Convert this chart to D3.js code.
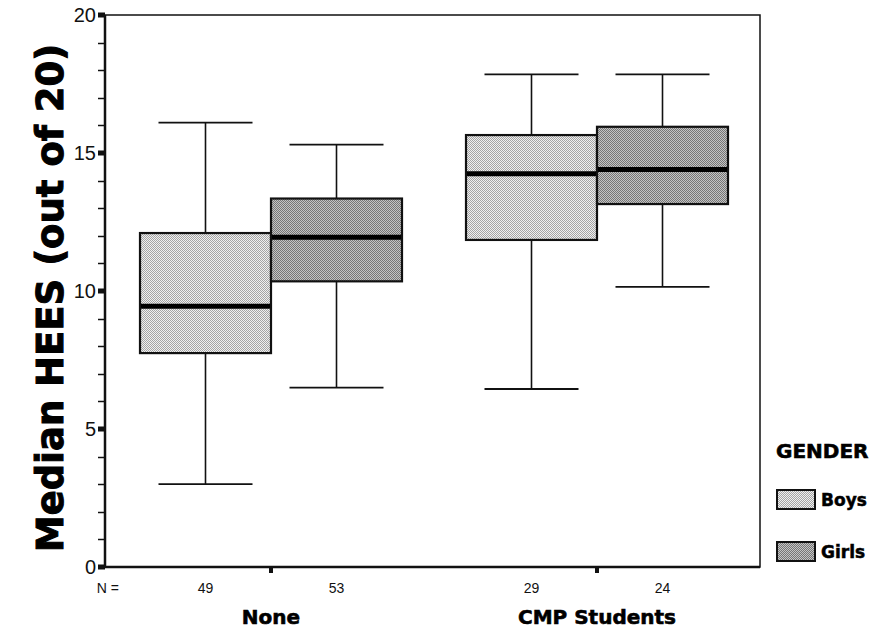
<!DOCTYPE html>
<html>
<head>
<meta charset="utf-8">
<script src="https://cdn.jsdelivr.net/npm/d3@7"></script>
<style>
  body { margin: 0; background: #fff; }
  svg { display: block; }
</style>
</head>
<body>
<div id="chart"></div>
<script>
// chart data
var groups = ['None', 'CMP Students'];
var genders = ['Boys', 'Girls'];
var nCounts = [49, 53, 29, 24];           // None-Boys, None-Girls, CMP-Boys, CMP-Girls
var lowWhisker = [3.0, 6.5, 6.45, 10.15];
var q1 = [7.75, 10.35, 11.85, 13.15];
var median = [9.45, 11.95, 14.25, 14.4];
var q3 = [12.1, 13.35, 15.65, 15.95];
var highWhisker = [16.1, 15.3, 17.85, 17.85];
var majorTicks = [0, 5, 10, 15, 20];
var minorTicks = d3.range(0, 21, 1);

var width = 875, height = 630;
var frame = { left: 105, right: 760, top: 15, bottom: 567 };
var boxW = 131, capW = 94;

var svg = d3.select('#chart')
    .append('svg')
    .attr('width', width)
    .attr('height', height);

// screen-tone fills
var defs = svg.append('defs');
function tone(id, light, dark) {
    var p = defs.append('pattern')
        .attr('id', id)
        .attr('width', 2)
        .attr('height', 2)
        .attr('patternUnits', 'userSpaceOnUse');
    p.append('rect').attr('width', 2).attr('height', 2).attr('fill', light);
    p.append('rect').attr('width', 1).attr('height', 1).attr('fill', dark);
    p.append('rect').attr('x', 1).attr('y', 1).attr('width', 1).attr('height', 1).attr('fill', dark);
}
tone('tone-Boys', '#f0f0f0', '#a4a4a4');
tone('tone-Girls', '#c4c4c4', '#767676');

// scales
var y = d3.scaleLinear().domain([0, 20]).range([frame.bottom, frame.top]);
var x = d3.scalePoint().domain(groups).range([frame.left + 3, frame.right]).padding(0.5);
var xg = d3.scaleBand().domain(genders).range([-boxW, boxW]);

// boxes table built from the arrays
var boxes = [];
groups.forEach(function (g, gi) {
    genders.forEach(function (s, si) {
        var i = gi * 2 + si;
        boxes.push({
            group: g, gender: s, n: nCounts[i],
            lo: lowWhisker[i], q1: q1[i], med: median[i], q3: q3[i], hi: highWhisker[i]
        });
    });
});
boxes.forEach(function (d) {
    d.x0 = x(d.group) + xg(d.gender);
    d.cx = d.x0 + xg.bandwidth() / 2;
});

// frame
svg.append('rect')
    .attr('x', frame.left)
    .attr('y', frame.top)
    .attr('width', frame.right - frame.left)
    .attr('height', frame.bottom - frame.top)
    .attr('fill', 'none')
    .attr('stroke', '#111')
    .attr('stroke-width', 1.5);
svg.append('line')
    .attr('x1', frame.left).attr('x2', frame.left)
    .attr('y1', frame.top).attr('y2', frame.bottom)
    .attr('stroke', '#111').attr('stroke-width', 2.5);
svg.append('line')
    .attr('x1', frame.left).attr('x2', frame.right)
    .attr('y1', frame.bottom).attr('y2', frame.bottom)
    .attr('stroke', '#111').attr('stroke-width', 2.5);

// y axis: minor ticks, major square ticks, labels
var yAxis = svg.append('g');
yAxis.selectAll('line.minor')
    .data(minorTicks.filter(function (t) { return majorTicks.indexOf(t) < 0; }))
    .enter().append('line')
    .attr('class', 'minor')
    .attr('x1', frame.left - 7).attr('x2', frame.left)
    .attr('y1', function (d) { return Math.round(y(d)) + 0.5; })
    .attr('y2', function (d) { return Math.round(y(d)) + 0.5; })
    .attr('stroke', '#111').attr('stroke-width', 1.5);
yAxis.selectAll('rect.major')
    .data(majorTicks)
    .enter().append('rect')
    .attr('class', 'major')
    .attr('x', frame.left - 7)
    .attr('y', function (d) { return y(d) - 2.5; })
    .attr('width', 7).attr('height', 5)
    .attr('fill', '#111');
yAxis.selectAll('text')
    .data(majorTicks)
    .enter().append('text')
    .attr('x', frame.left - 9)
    .attr('y', function (d) { return y(d); })
    .attr('dy', '0.36em')
    .attr('text-anchor', 'end')
    .attr('font-family', 'Liberation Sans, Arial, sans-serif')
    .attr('font-size', 20)
    .attr('fill', '#111')
    .text(function (d) { return d; });

// x group ticks (between the pairs)
svg.selectAll('rect.gtick')
    .data(groups)
    .enter().append('rect')
    .attr('class', 'gtick')
    .attr('x', function (d) { return x(d) - 2; })
    .attr('y', frame.bottom)
    .attr('width', 4).attr('height', 6)
    .attr('fill', '#111');

// whiskers
var bx = svg.append('g');
bx.selectAll('line.whisk')
    .data(boxes)
    .enter().append('line')
    .attr('class', 'whisk')
    .attr('x1', function (d) { return d.cx; })
    .attr('x2', function (d) { return d.cx; })
    .attr('y1', function (d) { return y(d.lo); })
    .attr('y2', function (d) { return y(d.hi); })
    .attr('stroke', '#111').attr('stroke-width', 1.6);
['lo', 'hi'].forEach(function (k) {
    bx.selectAll('line.cap-' + k)
        .data(boxes)
        .enter().append('line')
        .attr('class', 'cap-' + k)
        .attr('x1', function (d) { return d.cx - capW / 2; })
        .attr('x2', function (d) { return d.cx + capW / 2; })
        .attr('y1', function (d) { return y(d[k]); })
        .attr('y2', function (d) { return y(d[k]); })
        .attr('stroke', '#111').attr('stroke-width', 1.8);
});

// boxes
bx.selectAll('rect.box')
    .data(boxes)
    .enter().append('rect')
    .attr('class', 'box')
    .attr('x', function (d) { return d.x0; })
    .attr('y', function (d) { return y(d.q3); })
    .attr('width', xg.bandwidth())
    .attr('height', function (d) { return y(d.q1) - y(d.q3); })
    .attr('fill', function (d) { return 'url(#tone-' + d.gender + ')'; })
    .attr('stroke', '#111').attr('stroke-width', 2.2);

// medians
bx.selectAll('line.med')
    .data(boxes)
    .enter().append('line')
    .attr('class', 'med')
    .attr('x1', function (d) { return d.x0 + 1; })
    .attr('x2', function (d) { return d.x0 + xg.bandwidth() - 1; })
    .attr('y1', function (d) { return y(d.med); })
    .attr('y2', function (d) { return y(d.med); })
    .attr('stroke', '#000').attr('stroke-width', 5);

// N = counts
svg.append('text')
    .attr('x', 119).attr('y', 588)
    .attr('dy', '0.35em')
    .attr('text-anchor', 'end')
    .attr('font-family', 'Liberation Sans, Arial, sans-serif')
    .attr('font-size', 14)
    .attr('fill', '#111')
    .text('N =');
svg.selectAll('text.n')
    .data(boxes)
    .enter().append('text')
    .attr('class', 'n')
    .attr('x', function (d) { return d.cx; })
    .attr('y', 588)
    .attr('dy', '0.35em')
    .attr('text-anchor', 'middle')
    .attr('font-family', 'Liberation Sans, Arial, sans-serif')
    .attr('font-size', 14)
    .attr('fill', '#111')
    .text(function (d) { return d.n; });

// heavy labels: DejaVu bold with a thin outline to get close to a black face
var boldFont = 'DejaVu Sans, Verdana, sans-serif';
function heavy(sel, size, sw) {
    return sel
        .attr('font-family', boldFont)
        .attr('font-weight', 'bold')
        .attr('font-size', size)
        .attr('fill', '#000')
        .attr('stroke', '#000')
        .attr('stroke-width', sw);
}

// group labels
heavy(svg.selectAll('text.group')
    .data(groups)
    .enter().append('text')
    .attr('class', 'group')
    .attr('x', function (d) { return x(d); })
    .attr('y', 624)
    .attr('text-anchor', 'middle'), 20, 0.6)
    .text(function (d) { return d; });

// y title
heavy(svg.append('text')
    .attr('transform', 'translate(63,298) rotate(-90)')
    .attr('text-anchor', 'middle'), 37, 1)
    .text('Median HEES (out of 20)');

// legend
var legend = svg.append('g').attr('transform', 'translate(777,0)');
heavy(legend.append('text')
    .attr('x', -1).attr('y', 458), 20, 0.6)
    .text('GENDER');
var items = legend.selectAll('g.item')
    .data(genders)
    .enter().append('g')
    .attr('class', 'item')
    .attr('transform', function (d, i) { return 'translate(0,' + (490 + i * 52) + ')'; });
items.append('rect')
    .attr('width', 38).attr('height', 19)
    .attr('fill', function (d) { return 'url(#tone-' + d + ')'; })
    .attr('stroke', '#111').attr('stroke-width', 2);
heavy(items.append('text')
    .attr('x', 44).attr('y', 16), 17, 0.5)
    .text(function (d) { return d; });
</script>
</body>
</html>
